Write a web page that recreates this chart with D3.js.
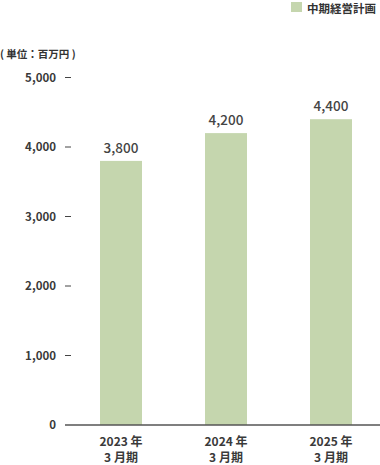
<!DOCTYPE html>
<html><head><meta charset="utf-8">
<script src="https://cdn.jsdelivr.net/npm/d3@7/dist/d3.min.js"></script>
<style>
html,body{margin:0;padding:0;background:#fff;}
text{font-family:"Noto Sans CJK JP","Noto Sans",sans-serif;}
</style></head>
<body><svg id="c" width="380" height="465"></svg>
<script>
const categories = [["2023 年","3 月期"],["2024 年","3 月期"],["2025 年","3 月期"]];
const values = [3800, 4200, 4400];
const valueLabels = ["3,800","4,200","4,400"];
const yTicks = [0,1000,2000,3000,4000,5000];
const seriesName = "中期経営計画";
const unitLabel = "( 単位：百万円 )";

const svg = d3.select("#c");
const barColor = "#c5d6ae";
const textColor = "#3a3a3a";

const y = d3.scaleLinear().domain([0,5000]).range([425, 77.5]);
const x = d3.scaleBand().domain(d3.range(categories.length)).range([68.5, 383.5]).paddingInner(0.6).paddingOuter(0.3);

// legend
svg.append("rect").attr("x",291).attr("y",2).attr("width",11).attr("height",10).attr("fill",barColor);
svg.append("text").attr("x",307).attr("y",13).attr("font-size",11.5).attr("font-weight",700).attr("fill","#333").text(seriesName);

// unit
svg.append("text").attr("x",0).attr("y",58).attr("font-size",10.5).attr("font-weight",700).attr("fill","#333").text(unitLabel);

// y axis
const yAxis = d3.axisLeft(y).tickValues(yTicks).tickFormat(d3.format(","))
  .tickSize(0).tickPadding(0);
const ga = svg.append("g").attr("transform","translate(56,0)").call(yAxis);
ga.select(".domain").remove();
ga.selectAll("text").attr("font-size",11.5).attr("font-weight",600).attr("fill",textColor)
  .attr("font-family",'"Noto Sans CJK JP",sans-serif');
// tick dashes
svg.append("g").selectAll("line").data(yTicks.filter(d=>d>0)).join("line")
  .attr("x1",65).attr("x2",71).attr("y1",d=>y(d)).attr("y2",d=>y(d))
  .attr("stroke","#444").attr("stroke-width",1);

// bars
svg.append("g").selectAll("rect").data(values).join("rect")
  .attr("x",(d,i)=>x(i)).attr("width",x.bandwidth())
  .attr("y",d=>y(d)).attr("height",d=>y(0)-y(d)).attr("fill",barColor);

// value labels
svg.append("g").selectAll("text").data(values).join("text")
  .attr("x",(d,i)=>x(i)+x.bandwidth()/2).attr("y",d=>y(d)-8)
  .attr("text-anchor","middle").attr("font-size",13.5).attr("font-weight",500).attr("fill","#444")
  .text((d,i)=>valueLabels[i]);

// baseline
svg.append("line").attr("x1",65).attr("x2",380).attr("y1",y(0)).attr("y2",y(0))
  .attr("stroke","#555").attr("stroke-width",1.5);

// x labels
const xg = svg.append("g");
categories.forEach((c,i)=>{
  c.forEach((line,j)=>{
    xg.append("text").attr("x",x(i)+x.bandwidth()/2).attr("y",446+j*16)
      .attr("text-anchor","middle").attr("font-size",12).attr("font-weight",700).attr("fill",textColor)
      .text(line);
  });
});
</script></body></html>
